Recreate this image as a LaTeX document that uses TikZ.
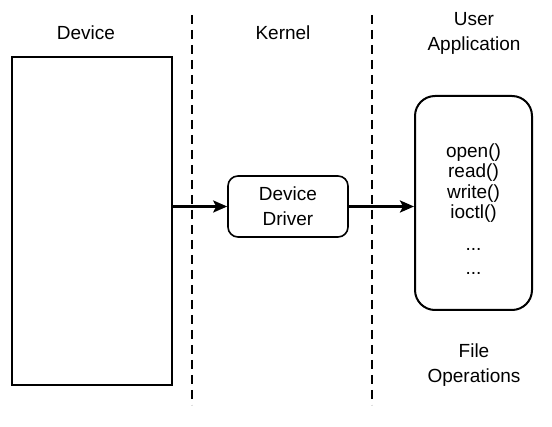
\documentclass[tikz,border=0pt]{standalone}
\usepackage{fontspec}
\setmainfont{Liberation Sans}
\usetikzlibrary{arrows.meta}

\tikzset{
  labelText/.style={align=center, font=\fontsize{19}{25}\selectfont},
  listText/.style={align=center, font=\fontsize{19}{20.5}\selectfont},
  divider/.style={line width=2.6pt, dash pattern=on 9pt off 6pt},
  flowArrow/.style={-{Stealth[length=14pt,width=12pt,inset=3pt]}, line width=2.6pt},
}

\begin{document}
\begin{tikzpicture}[x=1pt, y=-1pt]
\useasboundingbox (0,0) rectangle (552,427);

% columns
\draw[divider] (192,15) -- (192,405);
\draw[divider] (372,15) -- (372,405);

\node[labelText] (deviceLabel) at (86,33) {Device};
\node[labelText] (kernelLabel) at (283,33) {Kernel};
\node[labelText] (userLabel) at (474,33) {User\\Application};

% device
\node[draw, line width=1.5pt, minimum width=160pt, minimum height=328pt] (device) at (92,221) {};

% driver
\node[draw, line width=1.6pt, rounded corners=10pt, minimum width=120pt, minimum height=61pt, labelText] (driver) at (288,206.5) {Device\\Driver};

% application
\node[draw, line width=2pt, rounded corners=20pt, minimum width=117pt, minimum height=214pt] (app) at (473.5,203) {};
\node[listText] (fileOps) at (473.5,183) {open()\\read()\\write()\\ioctl()};
\node[listText, anchor=base] (dotsA) at (473.5,251) {...};
\node[listText, anchor=base] (dotsB) at (473.5,275) {...};
\node[labelText] (fileLabel) at (474,365) {File\\Operations};

\draw[flowArrow] (device.east |- driver.west) -- (driver.west);
\draw[flowArrow] (driver.east) -- (driver.east -| app.west);
\end{tikzpicture}
\end{document}
